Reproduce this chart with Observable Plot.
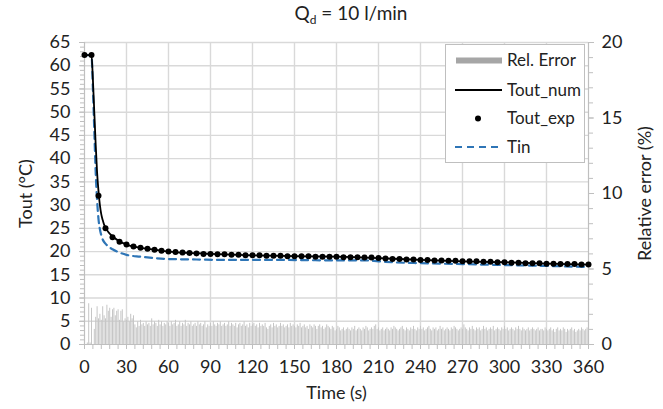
<!DOCTYPE html>
<html><head><meta charset="utf-8">
<script src="https://cdn.jsdelivr.net/npm/d3@7"></script>
<script src="https://cdn.jsdelivr.net/npm/@observablehq/plot@0.6"></script>
<style>
body{margin:0;background:#fff;font-family:Lato,"Open Sans",sans-serif;}
#wrap{position:relative;width:663px;height:409px;}
#title{position:absolute;left:231px;width:240px;top:1px;text-align:center;font-size:19px;line-height:24px;color:#222;}
#title sub{font-size:12px;vertical-align:-4px;line-height:0;}
</style></head>
<body><div id="wrap"><div id="title">Q<sub>d</sub> = 10 l/min</div></div>
<script>
// Experimental outlet temperature (every 5 s)
const expValues = [62.3,62.3,32.0,25.0,23.1,22.1,21.5,21.1,20.8,20.6,
 20.4,20.2,20.0,19.9,19.8,19.7,19.6,19.5,19.5,19.4,
 19.4,19.3,19.3,19.2,19.2,19.2,19.1,19.1,19.1,19.0,
 19.0,19.0,19.0,18.9,18.9,18.9,18.9,18.8,18.8,18.8,
 18.7,18.7,18.6,18.5,18.4,18.4,18.3,18.3,18.2,18.2,
 18.1,18.1,18.0,18.0,17.9,17.9,17.9,17.8,17.8,17.7,
 17.7,17.6,17.6,17.5,17.5,17.5,17.4,17.4,17.3,17.3,
 17.3,17.2,17.2];
const expTime = d3.range(0, 361, 5);

// Numerical outlet temperature
const numTime = [0,5,6,7,8,9,10,11,12,13,14,15,17,20,25,30,40,50,60,75,90,120,150,180,210,240,270,300,330,360];
const numTemp = [62.3,62.3,57,50,43,37,33,30,28,26.8,25.8,25.2,24.2,23.3,22.2,21.5,20.8,20.4,20.0,19.7,19.5,19.2,19.0,18.9,18.6,18.2,17.9,17.7,17.4,17.2];

// Inlet temperature
const tinTime = [0,5,6,7,8,9,10,11,12,13,15,17,20,25,30,40,50,60,80,100,140,180,200,210,220,240,270,300,330,360];
const tinTemp = [62.3,62.3,55,46,37,31,27,24.8,23.5,22.6,21.7,21.1,20.5,19.8,19.3,18.9,18.6,18.4,18.3,18.2,18.2,18.1,18.1,17.9,17.7,17.5,17.3,17.1,16.9,16.7];

// Relative error (%) every second
const relError = [
 0.0,0.0,0.1,2.7,0.1,2.4,0.0,1.0,1.8,2.5, 1.7,2.0,1.6,2.5,1.9,1.7,2.6,2.2,2.4,1.8, 2.3,2.4,1.9,2.2,2.3,1.6,2.2,2.3,1.5,1.7,
 1.6,1.8,1.5,2.0,1.7,1.9,1.3,1.1,1.5,1.2, 1.6,1.3,1.4,1.2,1.5,1.3,1.4,1.2,1.7,1.3, 1.5,1.4,1.2,1.6,1.3,1.5,1.2,1.4,1.3,1.5,
 1.4,1.2,1.5,1.3,1.4,1.6,1.2,1.3,1.5,1.2, 1.4,1.3,1.6,1.2,1.4,1.3,1.5,1.2,1.3,1.4, 1.2,1.5,1.3,1.4,1.2,1.3,1.5,1.1,1.3,1.2,
 1.4,1.2,1.5,1.3,1.2,1.4,1.3,1.5,1.2,1.3, 1.4,1.2,1.3,1.5,1.2,1.4,1.3,1.2,1.4,1.1, 1.3,1.4,1.2,1.3,1.5,1.2,1.3,1.1,1.4,1.2,
 1.3,1.4,1.2,1.3,1.1,1.4,1.2,1.3,1.2,1.4, 1.1,1.0,1.2,1.3,1.1,1.4,1.2,1.3,1.1,1.2, 1.4,1.2,1.3,1.1,1.2,1.3,1.1,1.4,1.2,1.3,
 1.2,1.1,1.3,1.2,1.4,1.1,1.2,1.3,1.1,1.2, 1.0,1.3,1.2,1.1,1.3,1.2,1.0,1.2,1.3,1.1, 1.2,1.0,1.1,1.3,1.2,1.1,1.0,1.2,1.1,0.9,
 1.0,1.2,1.1,0.9,1.0,1.1,0.9,1.0,1.1,1.0, 0.9,1.1,1.0,1.2,0.9,1.0,1.1,1.0,0.9,1.1, 1.0,1.2,1.1,0.9,1.0,1.1,1.0,1.2,1.3,1.0,
 1.1,0.9,1.0,1.1,0.9,1.0,1.1,1.0,0.9,1.1, 1.0,1.2,1.1,1.0,0.9,1.0,1.1,1.2,1.0,0.9, 1.1,1.0,0.9,1.1,1.0,1.2,1.0,0.9,1.1,1.0,
 1.2,1.0,1.1,0.9,1.0,1.1,1.2,1.0,0.9,1.1, 1.0,1.1,0.9,1.0,1.2,1.0,1.1,0.9,1.0,1.1, 1.0,0.9,1.1,1.0,1.2,1.1,1.0,0.9,1.0,1.1,
 1.0,1.3,1.1,1.0,0.9,1.1,1.0,1.2,1.0,0.9, 1.1,1.0,1.1,0.9,1.0,1.2,1.0,1.1,0.9,1.0, 1.1,1.0,1.2,0.9,1.0,1.1,1.0,0.9,1.1,1.0,
 1.2,1.0,1.1,0.9,1.0,1.1,1.0,0.9,1.1,1.0, 1.2,1.0,0.9,1.1,1.0,0.9,1.0,1.1,0.9,1.0, 1.1,1.0,0.9,1.0,1.1,0.9,1.0,1.0,0.9,1.1,
 1.0,0.9,1.0,1.1,0.9,1.0,0.8,1.0,1.1,0.9, 1.0,0.9,1.1,1.0,0.8,1.0,0.9,1.0,1.1,0.9, 1.0,0.8,0.9,1.0,0.9,1.1,1.0,0.9,1.0,1.1,
 0.9];
const errTime = d3.range(0, relError.length);

// Axes
const xTicks = [0,30,60,90,120,150,180,210,240,270,300,330,360];
const yTicks = [0,5,10,15,20,25,30,35,40,45,50,55,60,65];
const rightTicks = [0,5,10,15,20];
const yMax = 65, rMax = 20;
const toLeft = v => v * yMax / rMax;

const exp = expTime.map((t, i) => ({t, v: expValues[i]}));
const num = numTime.map((t, i) => ({t, v: numTemp[i]}));
const tin = tinTime.map((t, i) => ({t, v: tinTemp[i]}));
const err = errTime.map((t, i) => ({t, v: toLeft(relError[i])}));

const axisGray = "#bfbfbf";
const gridGray = "#d9d9d9";
const textCol = "#222";
const FS = 18;

const chart = Plot.plot({
  width: 663, height: 409,
  marginLeft: 84, marginRight: 75, marginTop: 42, marginBottom: 65,
  x: {domain: [0, 360]},
  y: {domain: [0, yMax]},
  style: {fontFamily: "Lato, 'Open Sans', sans-serif", fontSize: FS + "px", background: "#fff", color: textCol},
  marks: [
    Plot.gridX(xTicks.slice(1, -1), {stroke: gridGray, strokeOpacity: 1, strokeWidth: 1.4}),
    Plot.gridY(yTicks.slice(1), {stroke: gridGray, strokeOpacity: 1, strokeWidth: 1.4}),
    Plot.ruleX(err, {x: "t", y1: 0, y2: "v", stroke: "#c6c6c6", strokeWidth: 1}),
    Plot.ruleY([0], {stroke: axisGray, strokeWidth: 1.2}),
    Plot.ruleX([0, 360], {stroke: axisGray, strokeWidth: 1.2}),
    // bottom axis
    Plot.axisX(d3.range(0, 361, 6), {anchor: "bottom", tickSize: 5, tickFormat: () => "", label: null, stroke: axisGray}),
    Plot.axisX(xTicks, {anchor: "bottom", tickSize: 5, tickPadding: 11, label: null, stroke: axisGray, fill: textCol, fontSize: FS}),
    // left axis
    Plot.axisY(d3.range(0, 66, 1), {anchor: "left", tickSize: 4, tickFormat: () => "", label: null, stroke: axisGray}),
    Plot.axisY(yTicks, {anchor: "left", tickSize: 5, tickPadding: 9, label: null, stroke: axisGray, fill: textCol, fontSize: FS}),
    // right axis
    Plot.axisY(d3.range(0, 21, 1).map(toLeft), {anchor: "right", tickSize: 4, tickFormat: () => "", label: null, stroke: axisGray}),
    Plot.axisY(rightTicks.map(toLeft), {anchor: "right", tickSize: 5, tickPadding: 8, label: null, stroke: axisGray, fill: textCol, fontSize: FS,
      tickFormat: d => String(Math.round(d * rMax / yMax))}),
    // series
    Plot.line(tin, {x: "t", y: "v", stroke: "#2e75b6", strokeWidth: 2.2, strokeDasharray: "7,5", curve: "monotone-x"}),
    Plot.line(num, {x: "t", y: "v", stroke: "#000", strokeWidth: 1.8, curve: "monotone-x"}),
    Plot.dot(exp, {x: "t", y: "v", r: 3, fill: "#000", stroke: "none"}),
    // axis titles
    Plot.text(["Time (s)"], {frameAnchor: "bottom", lineAnchor: "middle", textAnchor: "middle", dy: 49, fontSize: FS, fill: textCol}),
    Plot.text(["Tout (°C)"], {frameAnchor: "left", textAnchor: "middle", lineAnchor: "middle", rotate: -90, dx: -58, fontSize: FS, fill: textCol}),
    Plot.text(["Relative error (%)"], {frameAnchor: "right", textAnchor: "middle", lineAnchor: "middle", rotate: -90, dx: 57, fontSize: FS, fill: textCol})
  ]
});

document.getElementById("wrap").prepend(chart);

// legend
const svg = d3.select(chart);
const lg = svg.append("g").attr("font-family", "Lato, 'Open Sans', sans-serif").attr("font-size", 17).attr("fill", textCol).attr("text-anchor", "start");
lg.append("rect").attr("x", 445.5).attr("y", 44.5).attr("width", 139).attr("height", 118).attr("fill", "#fff").attr("stroke", axisGray);
const items = [
  {label: "Rel. Error", y: 60.5, kind: "bar"},
  {label: "Tout_num", y: 90, kind: "line"},
  {label: "Tout_exp", y: 118.5, kind: "dot"},
  {label: "Tin", y: 147, kind: "dash"}
];
items.forEach(it => {
  if (it.kind === "bar") lg.append("rect").attr("x", 456).attr("y", it.y - 3).attr("width", 46).attr("height", 6).attr("fill", "#a6a6a6");
  if (it.kind === "line") lg.append("line").attr("x1", 455).attr("x2", 502).attr("y1", it.y).attr("y2", it.y).attr("stroke", "#000").attr("stroke-width", 1.8);
  if (it.kind === "dot") lg.append("circle").attr("cx", 478).attr("cy", it.y).attr("r", 3).attr("fill", "#000");
  if (it.kind === "dash") lg.append("line").attr("x1", 455).attr("x2", 502).attr("y1", it.y).attr("y2", it.y).attr("stroke", "#2e75b6").attr("stroke-width", 2.2).attr("stroke-dasharray", "7,5");
  lg.append("text").attr("x", 507).attr("y", it.y).attr("dy", "0.35em").attr("text-anchor", "start").text(it.label);
});
</script>
</body></html>
